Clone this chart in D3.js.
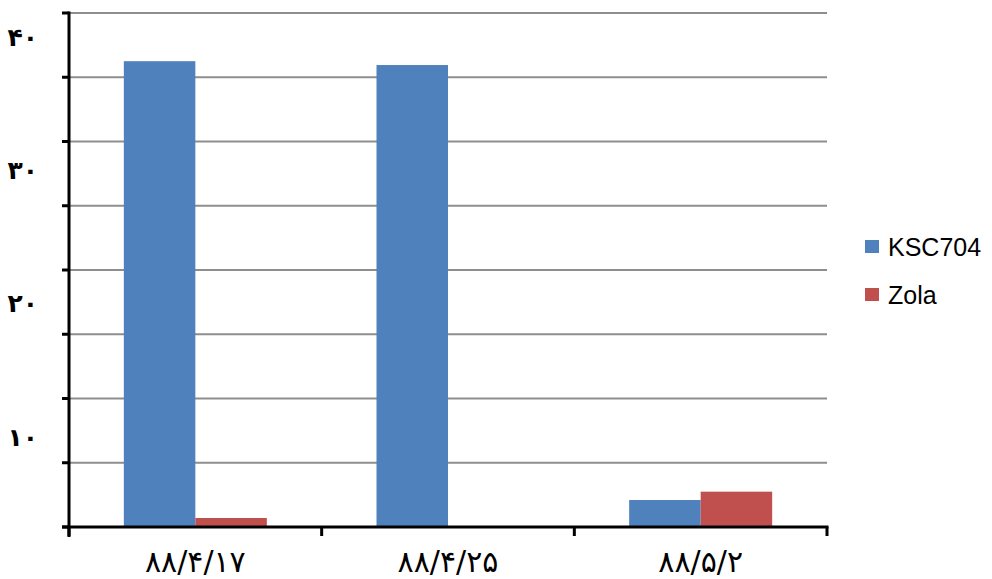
<!DOCTYPE html>
<html>
<head>
<meta charset="utf-8">
<script src="https://cdn.jsdelivr.net/npm/d3@7"></script>
<style>
  html, body { margin: 0; padding: 0; background: #fff; }
  svg { display: block; }
</style>
</head>
<body>
<svg id="chart" width="992" height="579"></svg>
<script>
// Dates (Persian calendar) on the category axis
const categories = ["۸۸/۴/۱۷", "۸۸/۴/۲۵", "۸۸/۵/۲"];
const seriesNames = ["KSC704", "Zola"];
const ksc704 = [36.25, 35.95, 2.1];
const zola = [0.7, 0, 2.75];
const gridValues = [5, 10, 15, 20, 25, 30, 35, 40];
const tickValues = [10, 20, 30, 40];
const tickLabels = ["۱۰", "۲۰", "۳۰", "۴۰"];

const colors = { KSC704: "#4F81BD", Zola: "#C0504D" };

const svg = d3.select("#chart");
const plotLeft = 69, plotRight = 827, plotTop = 13, plotBottom = 527;

const y = d3.scaleLinear().domain([0, 40]).range([plotBottom, plotTop]);
const x0 = d3.scaleBand().domain(categories).range([plotLeft, plotRight]).padding(0);
const gap = x0.step() * 0.217;
const x1 = d3.scaleBand().domain(seriesNames).range([gap, x0.bandwidth() - gap]).padding(0);

// value-label placement along the vertical axis
const labelY = d3.scaleLinear().domain([10, 40]).range([437, 37]);

const data = categories.map((c, i) => ({ cat: c, values: [
  { name: "KSC704", v: ksc704[i] },
  { name: "Zola", v: zola[i] }
]}));

// gridlines
svg.append("g").selectAll("line").data(gridValues).join("line")
  .attr("x1", plotLeft).attr("x2", plotRight)
  .attr("y1", d => y(d)).attr("y2", d => y(d))
  .attr("stroke", "#8e8e8e").attr("stroke-width", 2);

// bars
svg.append("g").selectAll("g").data(data).join("g")
  .attr("transform", d => `translate(${x0(d.cat)},0)`)
  .selectAll("rect").data(d => d.values.filter(e => e.v > 0)).join("rect")
  .attr("x", d => x1(d.name))
  .attr("width", x1.bandwidth())
  .attr("y", d => y(d.v))
  .attr("height", d => y(0) - y(d.v))
  .attr("fill", d => colors[d.name]);

// y axis line and ticks
const axisG = svg.append("g").attr("stroke", "#000");
axisG.append("line").attr("x1", plotLeft).attr("x2", plotLeft).attr("y1", plotTop - 1.5).attr("y2", plotBottom + 10)
  .attr("stroke-width", 3);
axisG.selectAll("line.yt").data([0].concat(gridValues)).join("line").attr("class", "yt")
  .attr("x1", plotLeft - 7).attr("x2", plotLeft).attr("y1", d => y(d)).attr("y2", d => y(d))
  .attr("stroke-width", 3);

// x axis line and ticks
axisG.append("line").attr("x1", plotLeft - 7).attr("x2", plotRight + 1.5).attr("y1", plotBottom).attr("y2", plotBottom)
  .attr("stroke-width", 3);
const xTicks = categories.map(c => x0(c)).concat([plotRight]);
axisG.selectAll("line.xt").data(xTicks).join("line").attr("class", "xt")
  .attr("x1", d => d).attr("x2", d => d).attr("y1", plotBottom).attr("y2", plotBottom + 9)
  .attr("stroke-width", 3);

// y labels
svg.append("g").selectAll("text").data(tickValues).join("text")
  .attr("x", 38).attr("y", d => labelY(d))
  .attr("dy", "0.35em")
  .attr("text-anchor", "end")
  .attr("font-family", "DejaVu Sans, Noto Sans, sans-serif")
  .attr("font-weight", "bold")
  .attr("font-size", 25)
  .text((d, i) => tickLabels[i]);

// x labels
svg.append("g").selectAll("text").data(categories).join("text")
  .attr("x", d => x0(d) + x0.bandwidth() / 2).attr("y", 572)
  .attr("text-anchor", "middle")
  .attr("font-family", "DejaVu Sans, Noto Sans, sans-serif")
  .attr("font-size", 30)
  .attr("letter-spacing", 2)
  .text(d => d);

// legend
const legend = svg.append("g").attr("transform", "translate(865,240)");
const items = legend.selectAll("g").data(seriesNames).join("g")
  .attr("transform", (d, i) => `translate(0,${i * 48})`);
items.append("rect").attr("width", 14).attr("height", 13).attr("fill", d => colors[d]);
items.append("text").attr("x", 23).attr("y", 16)
  .attr("font-family", "Liberation Sans, Arial, sans-serif")
  .attr("font-size", 25)
  .text(d => d);
</script>
</body>
</html>
